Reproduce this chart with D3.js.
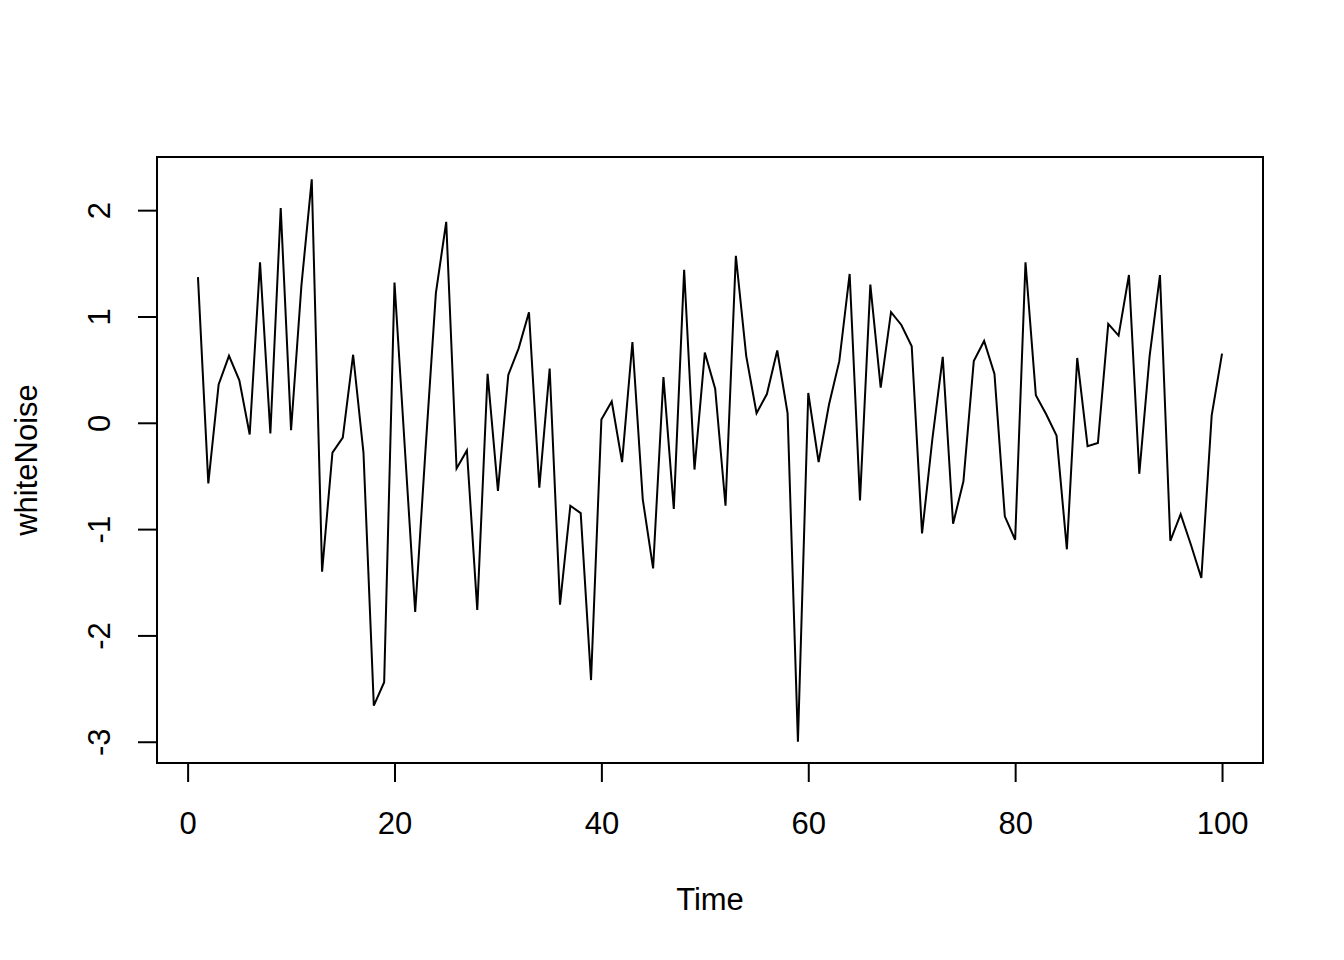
<!DOCTYPE html>
<html>
<head>
<meta charset="utf-8">
<script src="https://cdn.jsdelivr.net/npm/d3@7"></script>
<style>
    body { margin: 0; background: #fff; }
    svg text { font-family: "Liberation Sans", Arial, sans-serif; fill: #000; }
</style>
</head>
<body>
<svg id="chart" width="1344" height="960"></svg>
<script>
// values (t = 1..100)
const whiteNoise = [
    1.37, -0.57, 0.36, 0.63, 0.40, -0.11, 1.51, -0.10, 2.02, -0.07,
    1.29, 2.29, -1.40, -0.28, -0.14, 0.64, -0.28, -2.66, -2.44, 1.32,
    -0.24, -1.78, -0.25, 1.22, 1.89, -0.43, -0.26, -1.76, 0.46, -0.64,
    0.45, 0.70, 1.04, -0.61, 0.51, -1.71, -0.78, -0.85, -2.42, 0.03,
    0.20, -0.37, 0.76, -0.72, -1.37, 0.43, -0.81, 1.44, -0.44, 0.66,
    0.32, -0.78, 1.57, 0.63, 0.09, 0.27, 0.68, 0.09, -3.00, 0.28,
    -0.37, 0.17, 0.58, 1.40, -0.73, 1.30, 0.33, 1.04, 0.92, 0.72,
    -1.04, -0.15, 0.62, -0.95, -0.55, 0.58, 0.77, 0.46, -0.88, -1.10,
    1.51, 0.26, 0.08, -0.12, -1.19, 0.61, -0.22, -0.19, 0.93, 0.82,
    1.39, -0.48, 0.63, 1.39, -1.11, -0.86, -1.15, -1.46, 0.07, 0.65
];
const timeTicks = [0, 20, 40, 60, 80, 100];
const valueTicks = [-3, -2, -1, 0, 1, 2];
const xLabel = 'Time';
const yLabel = 'whiteNoise';

const svg = d3.select('#chart');
const box = {left: 157, right: 1263, top: 157, bottom: 763};
const tick = 19;
const fontSize = 31;

// R style 4% padding on the time range
const xScale = d3.scaleLinear().domain([-2.96, 103.96]).range([box.left, box.right]);
const yScale = d3.scaleLinear().domain([-3.2, 2.5]).range([box.bottom, box.top]);

const series = whiteNoise.map((v, i) => ({t: i + 1, v: v}));

const line = d3.line()
    .x(d => xScale(d.t))
    .y(d => yScale(d.v));

svg.append('path')
    .datum(series)
    .attr('fill', 'none')
    .attr('stroke', '#000')
    .attr('stroke-width', 2)
    .attr('stroke-linejoin', 'miter')
    .attr('d', line);

// plot frame
svg.append('rect')
    .attr('x', box.left)
    .attr('y', box.top)
    .attr('width', box.right - box.left)
    .attr('height', box.bottom - box.top)
    .attr('fill', 'none')
    .attr('stroke', '#000')
    .attr('stroke-width', 2);

// plain hyphen for negatives, like R
const plain = d => String(d);

// x axis
const xAxis = svg.append('g').attr('transform', `translate(0,${box.bottom})`)
    .call(d3.axisBottom(xScale).tickValues(timeTicks).tickSize(tick).tickPadding(0).tickFormat(plain));
xAxis.select('.domain')
    .attr('d', `M${xScale(timeTicks[0])},0H${xScale(timeTicks[timeTicks.length - 1])}`)
    .attr('stroke-width', 2);
xAxis.selectAll('.tick line').attr('stroke-width', 2);
xAxis.selectAll('.tick text')
    .attr('y', 71)
    .attr('dy', null)
    .style('font-size', fontSize + 'px')
    .style('font-family', '"Liberation Sans", Arial, sans-serif');

// y axis, labels turned like R's las = 0
const yAxis = svg.append('g').attr('transform', `translate(${box.left},0)`)
    .call(d3.axisLeft(yScale).tickValues(valueTicks).tickSize(tick).tickFormat(plain));
yAxis.select('.domain')
    .attr('d', `M0,${yScale(valueTicks[0])}V${yScale(valueTicks[valueTicks.length - 1])}`)
    .attr('stroke-width', 2);
yAxis.selectAll('.tick line').attr('stroke-width', 2);
yAxis.selectAll('.tick text')
    .attr('x', null)
    .attr('dy', null)
    .attr('text-anchor', 'middle')
    .attr('transform', 'translate(-47,0) rotate(-90)')
    .style('font-size', fontSize + 'px')
    .style('font-family', '"Liberation Sans", Arial, sans-serif');

// axis titles
svg.append('text')
    .attr('x', (box.left + box.right) / 2)
    .attr('y', 910)
    .attr('text-anchor', 'middle')
    .style('font-size', fontSize + 'px')
    .text(xLabel);

svg.append('text')
    .attr('transform', `translate(37,${(box.top + box.bottom) / 2}) rotate(-90)`)
    .attr('text-anchor', 'middle')
    .style('font-size', fontSize + 'px')
    .text(yLabel);
</script>
</body>
</html>
